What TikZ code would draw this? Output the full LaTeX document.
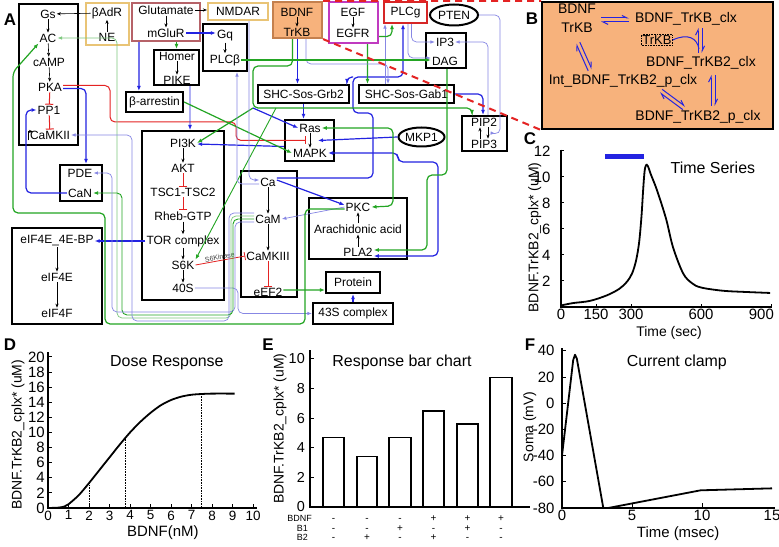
\documentclass[tikz,border=0pt]{standalone}
\usepackage{fontspec}
\setmainfont{Liberation Sans}
\usetikzlibrary{arrows.meta,shapes.geometric,calc}
\definecolor{dblue}{RGB}{35,35,225}
\definecolor{lblue}{RGB}{135,135,228}
\definecolor{dgreen}{RGB}{35,165,35}
\definecolor{lgreen}{RGB}{125,200,125}
\definecolor{ired}{RGB}{228,35,35}
\definecolor{tanb}{RGB}{233,196,118}
\definecolor{glub}{RGB}{182,98,104}
\definecolor{magb}{RGB}{192,58,192}
\definecolor{plcr}{RGB}{214,38,38}
\definecolor{orfill}{RGB}{247,178,124}
\definecolor{orbord}{RGB}{196,128,78}
\tikzset{
  box/.style={draw, line width=2.2bp, inner sep=0pt},
  cbox/.style={box, draw=#1},
  ell/.style={ellipse, draw, line width=2bp, inner sep=0pt},
  blk/.style={-{Stealth[length=4bp,width=3.2bp]}, line width=0.6bp, black},
  inh/.style={-{Bar[width=8bp]}, line width=1bp, ired},
  bl/.style={-{Latex[length=5bp,width=4bp]}, line width=1.2bp, dblue, rounded corners=5bp},
  lbl/.style={-{Latex[length=4.5bp,width=3.5bp]}, line width=0.7bp, lblue, rounded corners=5bp},
  gr/.style={-{Latex[length=5bp,width=4bp]}, line width=1.2bp, dgreen, rounded corners=5bp},
  lgr/.style={-{Latex[length=4.5bp,width=3.5bp]}, line width=0.7bp, lgreen, rounded corners=5bp},
  hp/.style={-{Straight Barb[left,length=5bp,width=5bp]}, line width=1bp, dblue},
  axisline/.style={line width=1.8bp, black},
  curveline/.style={line width=1.8bp, black},
  plbl/.style={font=\bfseries\fontsize{17}{17}\selectfont},
  ticklab/.style={font=\fontsize{15}{15}\selectfont},
  axlab/.style={font=\fontsize{14}{14}\selectfont},
  ttl/.style={font=\fontsize{16}{16}\selectfont},
  bfont/.style={font=\fontsize{14}{14}\selectfont},
  rowlab/.style={font=\fontsize{9}{9}\selectfont, inner sep=0pt, text height=6bp, text depth=0bp},
  sgn/.style={font=\fontsize{10}{10}\selectfont, inner sep=0pt, text height=6bp, text depth=0bp},
}
\newcommand\hpair[2]{%
  \draw[hp] ($(#1)!2bp!90:(#2)$) -- ($(#2)!2bp!-90:(#1)$);
  \draw[hp] ($(#2)!2bp!90:(#1)$) -- ($(#1)!2bp!-90:(#2)$);}
\begin{document}
\begin{tikzpicture}[x=1bp, y=-1bp, every node/.style={inner sep=1bp, font=\fontsize{12}{13}\selectfont}]
\useasboundingbox (0,0) rectangle (779,547);
\fill[white] (0,0) rectangle (779,547);

% ---------------- Panel A boxes ----------------
\node[box, minimum width=59bp, minimum height=141bp] (bxAC) at (48.5,74.5) {};
\node[cbox=tanb, minimum width=43bp, minimum height=42bp] (bxAdR) at (107.5,24) {};
\node[cbox=glub, minimum width=68bp, minimum height=38bp] (bxGlu) at (166,22) {};
\node[cbox=tanb, minimum width=60bp, minimum height=17bp] (NMDAR) at (238,11.5) {NMDAR};
\node[box, minimum width=45bp, minimum height=35bp] (bxHomer) at (176.5,67.5) {};
\node[box, minimum width=44bp, minimum height=47bp] (bxGq) at (225,47.5) {};
\node[box, minimum width=57bp, minimum height=20bp] (Arr) at (154.5,102) {β-arrestin};
\node[box, minimum width=42bp, minimum height=36bp] (bxPDE) at (81,183) {};
\node[box, minimum width=82bp, minimum height=169bp] (bxPI3K) at (183,215.5) {};
\node[box, minimum width=90bp, minimum height=96bp] (bxEIF) at (57,276) {};
\node[cbox=orbord, fill=orfill, minimum width=49bp, minimum height=36bp] (bxBDNF) at (297.5,20) {};
\node[cbox=magb, minimum width=49bp, minimum height=41bp] (bxEGF) at (353.5,22.5) {};
\node[cbox=plcr, minimum width=43bp, minimum height=21bp] (PLCg) at (405.5,12.5) {PLCg};
\node[ell, minimum width=48bp, minimum height=21bp] (PTEN) at (454,15) {PTEN};
\node[box, minimum width=40bp, minimum height=35bp] (bxIP3) at (446,50.5) {};
\node[box, minimum width=91bp, minimum height=18bp] (Grb2) at (303.5,94) {SHC-Sos-Grb2};
\node[box, minimum width=95bp, minimum height=18bp] (Gab1) at (406.5,94) {SHC-Sos-Gab1};
\node[box, minimum width=49bp, minimum height=41bp] (bxRas) at (309.5,140.5) {};
\node[ell, minimum width=43bp, minimum height=19bp] (MKP1) at (421.5,137) {MKP1};
\node[box, minimum width=45bp, minimum height=35bp] (bxPIP) at (484.5,133.5) {};
\node[box, minimum width=56bp, minimum height=126bp] (bxCa) at (269,234) {};
\node[box, minimum width=98bp, minimum height=61bp] (bxPKC) at (358,228.5) {};
\node[box, minimum width=54bp, minimum height=21bp] (Prot) at (353,282.5) {Protein};
\node[box, minimum width=80bp, minimum height=21bp] (S43) at (353,313.5) {43S complex};

% ---------------- Panel A texts ----------------
\node (Gs) at (48,14) {Gs};
\node (AC) at (48,38) {AC};
\node (cAMP) at (49,62) {cAMP};
\node (PKA) at (50,87) {PKA};
\node (PP1) at (49,110) {PP1};
\node (CaMKII) at (50,135) {CaMKII};
\node (AdR) at (107,13) {βAdR};
\node (NE) at (107,37) {NE};
\node (Glu) at (166,10) {Glutamate};
\node (mGluR) at (166,33) {mGluR};
\node (Homer) at (177,56) {Homer};
\node (PIKE) at (177,80) {PIKE};
\node (Gq) at (225,36) {Gq};
\node (PLCb) at (225,60) {PLCβ};
\node (PDE) at (80,173) {PDE};
\node (CaN) at (80,193) {CaN};
\node (PI3K) at (183,143) {PI3K};
\node (AKT) at (183,168) {AKT};
\node (TSC) at (183,192) {TSC1-TSC2};
\node (Rheb) at (183,216) {Rheb-GTP};
\node (TOR) at (183,241) {TOR complex};
\node (S6K) at (183,265) {S6K};
\node (S40) at (183,288) {40S};
\node (eIFBP) at (57,241) {eIF4E\_4E-BP};
\node (eIF4E) at (57,277) {eIF4E};
\node (eIF4F) at (57,313) {eIF4F};
\node (BDNF) at (297,12) {BDNF};
\node (TrKB) at (297,32) {TrKB};
\node (EGF) at (353,12) {EGF};
\node (EGFR) at (353,33) {EGFR};
\node (IP3) at (445,42) {IP3};
\node (DAG) at (445,61) {DAG};
\node (Ras) at (310,128) {Ras};
\node (MAPK) at (310,153) {MAPK};
\node (PIP2) at (484,122) {PIP2};
\node (PIP3) at (484,144) {PIP3};
\node (Ca) at (268,182) {Ca};
\node (CaM) at (268,219) {CaM};
\node (CaMKIII) at (268,256) {CaMKIII};
\node (eEF2) at (268,292) {eEF2};
\node (PKC) at (358,207) {PKC};
\node (AA) at (358,229) {Arachidonic acid};
\node (PLA2) at (358,252) {PLA2};

% ---------------- black / red arrows inside boxes ----------------
\draw[blk] (AdR) -- (Gs);
\draw[blk] (NE) -- (AdR);
\draw[blk] (Gs) -- (AC);
\draw[blk] (AC) -- (cAMP);
\draw[blk] (cAMP) -- (PKA);
\draw[inh] (PKA) -- (PP1);
\draw[inh] (PP1) -- (CaMKII);
\draw[blk] ([xshift=-1bp]CaMKII.south west) -- ++(0,-9) -- ++(5,0);
\draw[blk] (Glu) -- (mGluR);
\draw[blk] (Glu.east) -- (NMDAR.west |- Glu.east);
\draw[blk] (Homer) -- (PIKE);
\draw[blk] (Gq) -- (PLCb);
\draw[blk] (BDNF) -- (TrKB);
\draw[blk] (EGF) -- (EGFR);
\draw[blk] (PI3K) -- (AKT);
\draw[inh] (AKT) -- (TSC);
\draw[inh] (TSC) -- (Rheb);
\draw[blk] (Rheb) -- (TOR);
\draw[blk] (TOR) -- (S6K);
\draw[blk] (S6K) -- (S40);
\draw[blk] (eIFBP) -- (eIF4E);
\draw[blk] (eIF4E) -- (eIF4F);
\draw[blk] (Ca) -- (CaM);
\draw[blk] (CaM) -- (CaMKIII);
\draw[inh] (CaMKIII) -- (eEF2);
\draw[blk] (PLA2) -- (AA);
\draw[blk] (AA) -- (PKC);
\draw[blk] (Ras) -- (MAPK);
\draw[blk] ([xshift=-4bp]PIP3.north) -- ([xshift=-4bp]PIP2.south);
\draw[blk] ([xshift=4bp]PIP2.south) -- ([xshift=4bp]PIP3.north);
\draw[inh, line width=0.8bp] (S6K.east) -- (CaMKIII.west)
  node[midway, sloped, above, font=\fontsize{7}{7}\selectfont, text=black!75, inner sep=0.5bp] (s6lab) {S6Kinase};

% ---------------- coloured connectors ----------------
\coordinate (rasmid) at ($(Ras)!0.5!(MAPK)$);
\draw[inh, rounded corners=5bp] ([yshift=1.5bp]PKA.east) -- (110,85.5) -- (110,122) -- (236,122) -- (236,140.5) -- ($(rasmid)+(-4,0)$);
\draw[bl] ([yshift=-1.5bp]PKA.east) -- (86,88.5) -- ([xshift=5bp]bxPDE.north);
\draw[bl] (CaN.west) -- (26,193) -- (26,110) -- (PP1.west);
\draw[bl] (mGluR.east) -- (Gq.west |- mGluR.east);
\draw[bl] ([xshift=8bp]bxGlu.south west) -- ([xshift=14bp]Arr.north west);
\draw[gr] (bxHomer.north |- bxGlu.south) -- (bxHomer.north);
\draw[bl, line width=0.9bp] ([xshift=13.5bp]bxHomer.south) -- ([xshift=7bp]bxPI3K.north);
\draw[bl] (bxBDNF.south) -- (bxBDNF.south |- Grb2.north);
\draw[bl] (Grb2.south) -- (Grb2.south |- bxRas.north);
\draw[bl] (TOR.west) -- (eIFBP.east);
\draw[bl] ([yshift=2bp]Ca.east) -- ([yshift=2bp]PKC.west);
\draw[lbl] (PKC.west) -- (CaM.east);
\draw[bl] (MKP1.west) -- ($(rasmid)+(8,0)$);
\draw[bl, {Latex[length=5bp,width=4bp]}-{Latex[length=5bp,width=4bp]}] (MAPK.east) -- (398,153) -- (398,162) -- (438,162) -- (438,256) -- ([yshift=-4bp]PLA2.east);
\coordinate (jc) at (353,77);
\draw[bl] ([yshift=4bp]Ca.east) -- (373,178) -- (373,113) -- (353,113) -- (jc) -- (403,77) -- ([xshift=-2.5bp]PLCg.south);
\draw[bl] (jc) -- (347,77) -- ([xshift=43.5bp]Grb2.north);
\draw[lbl] ([xshift=6bp]PLCg.south) -- (411.5,42) -- (IP3.west);
\draw[lbl] ([xshift=2.5bp]PLCg.south) -- (408,58) -- ([yshift=3bp]DAG.west);
\draw[lbl] (PTEN.east) -- (500,15) -- (500,134) -- ([xshift=-13bp]bxPIP.east);
\draw[lbl] ([xshift=3.5bp]bxPIP.north) -- (488,42) -- (IP3.east);
\draw[bl] (Gab1.east) -- (483,94) -- ([xshift=-1.5bp]bxPIP.north);
\coordinate (jg) at (253,108);
\draw[gr] ([xshift=-5bp]bxBDNF.south) -- (292.5,66) -- (253,66) -- (jg) -- (472,108) -- ([xshift=-12.5bp]bxPIP.north);
\draw[gr] (jg) -- (PI3K.east);
\draw[bl] (jg) -- (Ras.west);
\draw[bl] ([yshift=-6bp]bxRas.west) -- ([yshift=-1bp]PI3K.east);
\draw[gr] (Arr.east) -- (MAPK.west);
\draw[gr, line width=0.9bp] (276,108) -- (S6K.north east);
\draw[lbl] ([yshift=-2bp]Ca.west) -- (237,184) -- ([xshift=12bp]bxGq.south);
\draw[lbl] ([xshift=11bp]NMDAR.south) -- (249,180) -- ([yshift=2bp]Ca.west);
\draw[lbl] (S40.east) -- (238,288) -- (238,313.5) -- (S43.west);
\draw[bl] (S43.north) -- (Prot.south);
\draw[gr] ([yshift=2bp]eEF2.east) -- ([yshift=-7.5bp]Prot.west);
\draw[gr] ([yshift=-2bp]PKC.west) -- (305,209) -- (305,324) -- (105,324) -- (105,213) -- (13,213) -- (13,72) -- (AC.south west);
\draw[lgr] ([yshift=3bp]CaM.west) -- (231,216) -- (231,318) -- (117,318) -- (117,38) -- (AC.east);
\draw[gr, line width=0.9bp] (CaM.west) -- (233,219) -- (233,315) -- (122,315) -- (122,193) -- (CaN.east);
\draw[lbl] ([yshift=-3bp]CaM.west) -- (235,222) -- (235,312) -- (112,312) -- (112,173) -- (PDE.east);
\draw[lbl] ([yshift=6bp]CaM.west) -- (229,213) -- (229,321) -- (132,321) -- (132,135) -- (CaMKII.east);
\draw[gr] ([xshift=14bp]bxEGF.south) -- ([xshift=-39bp]Gab1.north);
\draw[lbl] ([xshift=8.5bp]bxBDNF.south) -- (306,64) -- (388,64) -- ([xshift=-18.5bp]Gab1.north);
\draw[lbl] ([xshift=-21.5bp]Gab1.north) -- ([xshift=-20.5bp]PLCg.south);
\draw[gr] ([yshift=-14bp]bxEGF.east) -- (392,36.5) -- ([xshift=-13.5bp]PLCg.south);
\draw[gr] (PLCb.east) -- (DAG.west |- PLCb.east);
\draw[gr, {Latex[length=5bp,width=4bp]}-{Latex[length=5bp,width=4bp]}] (Ras.east) -- (393,128) -- (393,206) -- (PKC.east);
\draw[gr] ([xshift=1bp]bxIP3.south) -- (447,175) -- (427,175) -- (427,250) -- ([yshift=2bp]PLA2.east);

% ---------------- Panel B ----------------
\node[draw, line width=2bp, fill=orfill, minimum width=231bp, minimum height=127bp] (bxB) at (657.5,65.5) {};
\draw[ired, line width=2bp, dash pattern=on 7bp off 5bp] (bxBDNF.north east) -- (bxB.north west);
\draw[ired, line width=2bp, dash pattern=on 7bp off 5bp] (bxBDNF.south east) -- (bxB.south west);
\node[bfont] (bBDNF) at (577,9) {BDNF};
\node[bfont] (bTrKB) at (577,28) {TrKB};
\node[bfont] (bclx) at (686,19) {BDNF\_TrKB\_clx};
\node[draw, densely dotted, line width=0.6bp, inner sep=0.8bp, font=\fontsize{13}{13}\selectfont] (bTrKBd) at (657,40) {TrKB};
\node[bfont] (bclx2) at (701,63) {BDNF\_TrKB2\_clx};
\node[bfont] (bint) at (623,81) {Int\_BDNF\_TrKB2\_p\_clx};
\node[bfont] (bpclx) at (698,117) {BDNF\_TrKB2\_p\_clx};
\coordinate (h1a) at (601,20); \coordinate (h1b) at (629,20);
\coordinate (h2a) at (700,28); \coordinate (h2b) at (700,53);
\coordinate (h3a) at (713,75); \coordinate (h3b) at (713,106);
\coordinate (h4a) at (661,91); \coordinate (h4b) at (684,108);
\coordinate (h5a) at (578,43); \coordinate (h5b) at (590,70);
\hpair{h1a}{h1b}
\hpair{h2a}{h2b}
\hpair{h3a}{h3b}
\hpair{h4a}{h4b}
\hpair{h5a}{h5b}
\draw[dblue, line width=1bp] (bTrKBd.east) .. controls (688,33) and (697,38) .. (699,49);

% ---------------- panel labels ----------------
\node[plbl] (lA) at (10,20) {A};
\node[plbl] (lB) at (532,19) {B};
\node[plbl] (lC) at (530,139) {C};
\node[plbl] (lD) at (10,345) {D};
\node[plbl] (lE) at (268,345) {E};
\node[plbl] (lF) at (530,345) {F};

% ---------------- Panel C ----------------
\begin{scope}[shift={(561,307)}, x=0.23333bp, y=13bp]
  \draw[dblue, line width=5bp] (190,11.54) -- (356,11.54);
  \draw[axisline] (0,12.1) -- (0,0) -- (905,0);
  \foreach \v in {2,4,...,12} {
    \draw[line width=1bp] (0,\v) -- (14,\v);
    \node[ticklab, anchor=east] (cy\v) at (-40,\v) {\v};
  }
  \foreach \t in {150,300,600,900} \draw[line width=1bp] (\t,0) -- (\t,0.25);
  \foreach \t in {0,150,300,600} \node[ticklab, anchor=north] (cx\t) at (\t,-0.1) {\t};
  \node[ticklab, anchor=north east, inner xsep=0pt] (cx900) at (913,-0.1) {900};
  \draw[curveline] plot[smooth, tension=0.55] coordinates {(0,0.12) (51,0.3) (124,0.47) (197,0.9) (250,1.4) (283,1.95) (305,2.6) (322,3.6) (335,5.0) (345,7.0) (352,9.0) (358,10.4) (364,10.9) (372,10.85) (385,10.2) (411,9.0) (450,6.8) (480,4.6) (523,2.6) (560,1.85) (600,1.5) (694,1.25) (800,1.15) (896,1.08)};
  \node[ttl] (cT) at (651,10.7) {Time Series};
  \node[axlab] (cXL) at (463,-2.0) {Time (sec)};
  \node[axlab, rotate=90] (cYL) at (-112,5.35) {BDNF.TrKB2\_cplx* (uM)};
\end{scope}

% ---------------- Panel D ----------------
\begin{scope}[shift={(48,508)}, x=20.5bp, y=7.55bp]
  \draw[axisline] (0,20.6) -- (0,0) -- (10.2,0);
  \foreach \v in {0,2,...,20} {
    \draw[line width=1bp] (0,\v) -- (0.2,\v);
    \node[ticklab, anchor=east] (dy\v) at (-0.1,\v) {\v};
  }
  \foreach \u in {1,...,10} \draw[line width=1bp] (\u,0) -- (\u,0.5);
  \foreach \u in {0,...,10} \node[anchor=north, font=\fontsize{13.5}{13.5}\selectfont] (dx\u) at (\u,-0.2) {\u};
  \draw[densely dotted, line width=0.6bp] (2,0) -- (2,3.3);
  \draw[densely dotted, line width=0.6bp] (3.75,0) -- (3.75,9.3);
  \draw[densely dotted, line width=0.6bp] (7.5,0) -- (7.5,15.1);
  \draw[curveline] plot[smooth, tension=0.5] coordinates {(0,0) (0.5,0.05) (0.8,0.2) (1,0.5) (1.5,1.7) (2,3.3) (2.5,5) (3,6.7) (3.5,8.4) (4,10) (4.5,11.4) (5,12.6) (5.5,13.6) (6,14.3) (6.5,14.75) (7,15) (7.5,15.1) (8,15.15) (9.1,15.15)};
  \node[ttl] (dT) at (5.8,19.2) {Dose Response};
  \node[font=\fontsize{15}{15}\selectfont] (dXL) at (5.6,-3.2) {BDNF(nM)};
  \node[axlab, rotate=90] (dYL) at (-1.46,9.7) {BDNF.TrKB2\_cplx* (uM)};
\end{scope}

% ---------------- Panel E ----------------
\begin{scope}[shift={(310,507)}, x=1bp, y=14.8bp]
  \foreach \a/\b/\h in {13/34/4.7, 47/67/3.4, 79/101/4.7, 113/134/6.5, 147/168/5.6, 180/202/8.75}
    \draw[line width=1.5bp] (\a,0) rectangle (\b,\h);
  \draw[axisline] (0,10.6) -- (0,0) -- (220,0);
  \foreach \v in {0,2,...,10} {
    \draw[line width=1bp] (0,\v) -- (4,\v);
    \node[anchor=east, font=\fontsize{14.5}{14.5}\selectfont] (ey\v) at (-4,\v) {\v};
  }
  \node[ttl] (eT) at (92,9.8) {Response bar chart};
  \node[axlab, rotate=90] (eYL) at (-30,5.3) {BDNF.TrKB2\_cplx* (uM)};
  \node[rowlab, anchor=east] (eR1) at (2,-0.81) {BDNF};
  \node[rowlab, anchor=east] (eR2) at (-2,-1.42) {B1};
  \node[rowlab, anchor=east] (eR3) at (-2,-2.03) {B2};
  \foreach \x/\p/\q/\r [count=\i] in {23.5/-/-/-, 57/-/-/+, 90/-/+/-, 123.5/+/-/+, 157.5/+/+/-, 191/+/-/-} {
    \node[sgn] (ea\i) at (\x,-0.81) {\p};
    \node[sgn] (eb\i) at (\x,-1.42) {\q};
    \node[sgn] (ec\i) at (\x,-2.03) {\r};
  }
\end{scope}

% ---------------- Panel F ----------------
\begin{scope}[shift={(562,403.2)}, x=14bp, y=1.31bp]
  \draw[axisline] (0,42) -- (0,-80) -- (15.2,-80);
  \foreach \v in {-80,-60,...,40} {
    \draw[line width=1bp] (0,\v) -- (0.3,\v);
    \node[ticklab, anchor=east] (fy\v) at (-0.45,\v) {\v};
  }
  \foreach \t in {5,10} \draw[line width=1bp] (\t,-80) -- (\t,-76);
  \foreach \t in {0,5,10,15} \node[ticklab, anchor=north] (fx\t) at (\t,-81) {\t};
  \draw[curveline, line join=round] (0,-40) -- (0.8,33) -- (0.93,37) -- (1.06,34) -- (2.95,-80) -- (3.3,-80) -- (9.9,-66.5) -- (15,-65);
  \node[ttl] (fT) at (8.2,30.8) {Current clamp};
  \node[font=\fontsize{15}{15}\selectfont] (fXL) at (8.3,-99.5) {Time (msec)};
  \node[axlab, rotate=90] (fYL) at (-2.3,-18) {Soma (mV)};
\end{scope}
\end{tikzpicture}
\end{document}
